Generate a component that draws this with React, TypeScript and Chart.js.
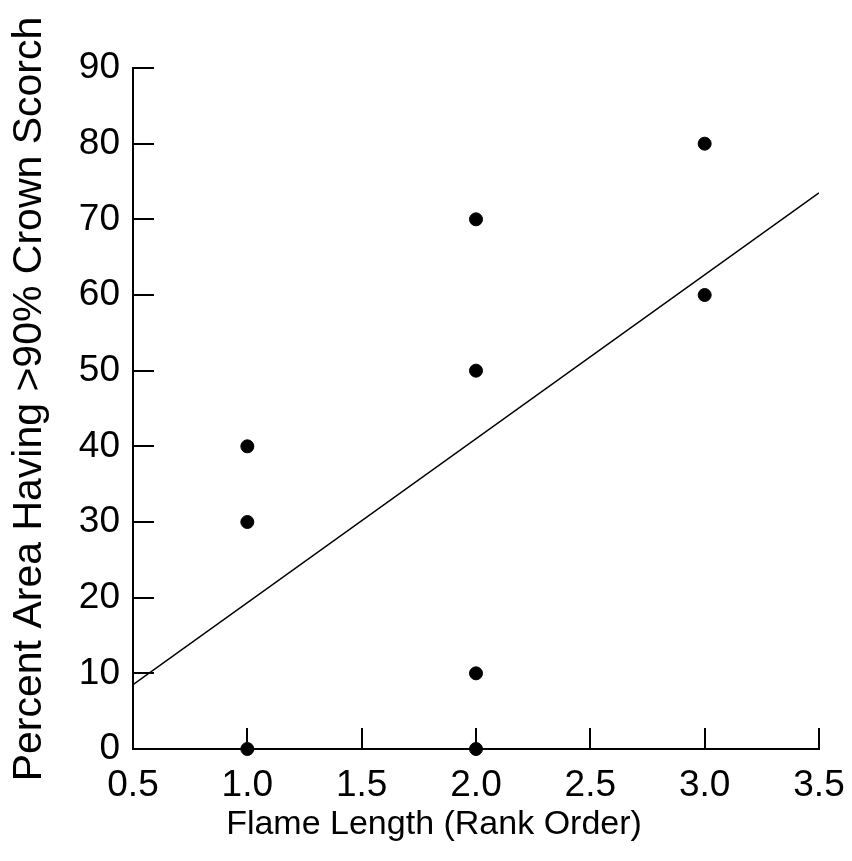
import React, { useEffect, useRef } from "react";
import { Chart, registerables } from "chart.js";

Chart.register(...registerables);

const flameLength = [1, 1, 1, 2, 2, 2, 2, 3, 3];
const crownScorch = [0, 30, 40, 0, 10, 50, 70, 60, 80];
const fitX = [0.5, 3.5];
const fitY = [8.5, 73.5];
const xTickValues = [0.5, 1.0, 1.5, 2.0, 2.5, 3.0, 3.5];
const yTickValues = [0, 10, 20, 30, 40, 50, 60, 70, 80, 90];
const xTitle = "Flame Length (Rank Order)";
const yTitle = "Percent Area Having >90% Crown Scorch";

const FONT = "'Liberation Sans', Arial, Helvetica, sans-serif";

const innerTicks = {
  id: "innerTicks",
  beforeDatasetsDraw(chart: any) {
    const { ctx, chartArea, scales } = chart;
    const len = 21;
    ctx.save();
    ctx.strokeStyle = "#000";
    ctx.lineWidth = 2;
    ctx.beginPath();
    for (const v of yTickValues) {
      const y = Math.round(scales.y.getPixelForValue(v));
      ctx.moveTo(chartArea.left, y);
      ctx.lineTo(chartArea.left + len, y);
    }
    for (const v of xTickValues) {
      const x = Math.round(scales.x.getPixelForValue(v));
      ctx.moveTo(x, chartArea.bottom);
      ctx.lineTo(x, chartArea.bottom - len);
    }
    ctx.stroke();
    ctx.restore();
  },
};

const axisTitles = {
  id: "axisTitles",
  afterDraw(chart: any) {
    const { ctx } = chart;
    ctx.save();
    ctx.fillStyle = "#000";
    ctx.textAlign = "center";
    ctx.textBaseline = "middle";
    ctx.font = `34px ${FONT}`;
    ctx.fillText(xTitle, 434, 825);
    ctx.translate(30, 399);
    ctx.rotate(-Math.PI / 2);
    ctx.font = `41px ${FONT}`;
    ctx.fillText(yTitle, 0, 0);
    ctx.restore();
  },
};

export default function App() {
  const ref = useRef<HTMLCanvasElement | null>(null);
  useEffect(() => {
    if (!ref.current) return;
    const chart = new Chart(ref.current, {
      type: "scatter",
      data: {
        datasets: [
          {
            label: "Observed",
            data: flameLength.map((x, i) => ({ x, y: crownScorch[i] })),
            backgroundColor: "#000",
            borderColor: "#000",
            pointRadius: 6.5,
            pointHoverRadius: 6.5,
            clip: false as any,
          },
          {
            label: "Fit",
            data: fitX.map((x, i) => ({ x, y: fitY[i] })),
            showLine: true,
            borderColor: "#000",
            borderWidth: 1.6,
            pointRadius: 0,
            fill: false,
          } as any,
        ],
      },
      options: {
        animation: false,
        responsive: true,
        maintainAspectRatio: false,
        layout: { padding: { top: 68, right: 33, bottom: 0, left: 0 } },
        plugins: {
          legend: { display: false },
          tooltip: { enabled: false },
        },
        scales: {
          x: {
            type: "linear",
            min: 0.5,
            max: 3.5,
            afterBuildTicks: (s: any) => {
              s.ticks = xTickValues.map((v) => ({ value: v }));
            },
            afterFit: (s: any) => {
              s.height = 112;
              s.paddingLeft = 0;
              s.paddingRight = 0;
            },
            ticks: {
              color: "#000",
              font: { family: FONT, size: 37 },
              padding: 15,
              maxRotation: 0,
              autoSkip: false,
              callback: (v: any) => Number(v).toFixed(1),
            },
            grid: { display: true, drawOnChartArea: false, drawTicks: false },
            border: { display: true, color: "#000", width: 2 },
            title: { display: false },
          },
          y: {
            type: "linear",
            min: 0,
            max: 90,
            afterBuildTicks: (s: any) => {
              s.ticks = yTickValues.map((v) => ({ value: v }));
            },
            afterFit: (s: any) => {
              s.width = 133;
              s.paddingTop = 0;
              s.paddingBottom = 0;
            },
            ticks: {
              color: "#000",
              font: { family: FONT, size: 37 },
              padding: 13,
              autoSkip: false,
            },
            grid: { display: true, drawOnChartArea: false, drawTicks: false },
            border: { display: true, color: "#000", width: 2 },
            title: { display: false },
          },
        },
      },
      plugins: [innerTicks, axisTitles],
    });
    return () => chart.destroy();
  }, []);
  return (
    <div style={{ position: "fixed", left: 0, top: 0, width: 852, height: 861, background: "#fff" }}>
      <canvas ref={ref} />
    </div>
  );
}
